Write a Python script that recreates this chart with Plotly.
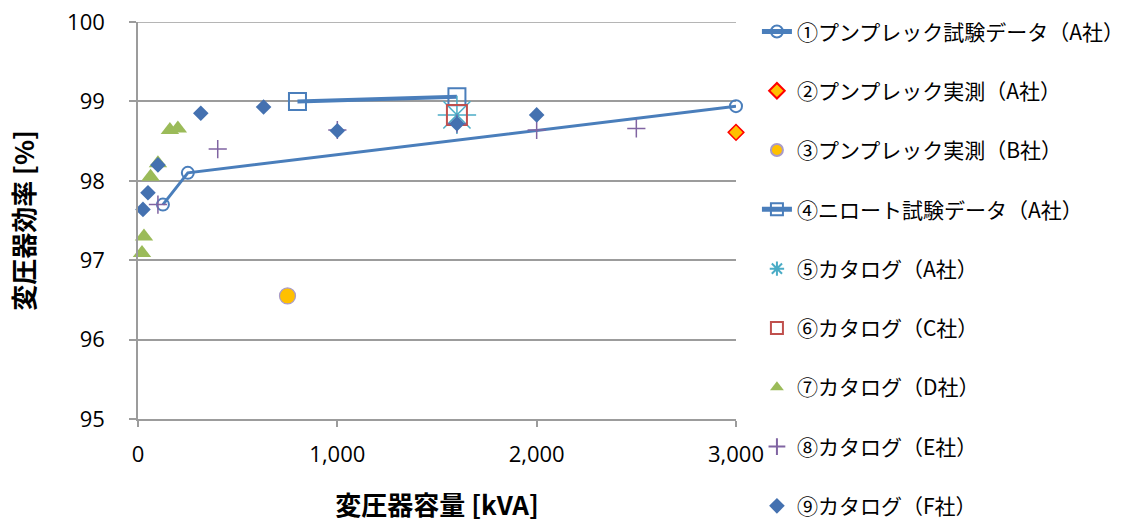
import plotly.graph_objects as go

# ---- data: transformer capacity [kVA] vs efficiency [%] ----
names = [
    "①プンプレック試験データ（A社）",
    "②プンプレック実測（A社）",
    "③プンプレック実測（B社）",
    "④ニロート試験データ（A社）",
    "⑤カタログ（A社）",
    "⑥カタログ（C社）",
    "⑦カタログ（D社）",
    "⑧カタログ（E社）",
    "⑨カタログ（F社）",
]

s1_x = [125, 250, 3000]
s1_y = [97.70, 98.10, 98.94]
s2_x = [3000]
s2_y = [98.61]
s3_x = [750]
s3_y = [96.55]
s4_x = [800, 1600]
s4_y = [99.00, 99.06]
s5_x = [1600]
s5_y = [98.83]
s6_x = [1600]
s6_y = [98.83]
s7_x = [20, 30, 63, 100, 160, 200]
s7_y = [97.09, 97.30, 98.05, 98.22, 98.64, 98.66]
s8_x = [100, 400, 1000, 1600, 2000, 2500]
s8_y = [97.70, 98.40, 98.64, 98.72, 98.64, 98.66]
s9_x = [25, 50, 100, 315, 630, 1000, 1600, 2000]
s9_y = [97.64, 97.85, 98.20, 98.85, 98.93, 98.63, 98.72, 98.83]

x_ticks = [0, 1000, 2000, 3000]
y_ticks = [95, 96, 97, 98, 99, 100]

BLUE = "#4A7EBB"
GRID = "#9C9C9C"
JP = "Noto Sans CJK JP"
NUM = "Open Sans"

fig = go.Figure()

def add(x, y, name, i, mode="markers", marker=None, line=None):
    fig.add_trace(go.Scatter(
        x=x, y=y, name=name, mode=mode, marker=marker, line=line,
        legendgroup=f"g{i}", cliponaxis=False,
    ))

add(s1_x, s1_y, names[0], 1, mode="lines+markers",
    marker=dict(symbol="circle-open", size=12, color=BLUE, line=dict(width=2)),
    line=dict(color=BLUE, width=3))
add(s2_x, s2_y, names[1], 2,
    marker=dict(symbol="diamond", size=12, color="#FFC000",
                line=dict(color="#FF0000", width=1.5)))
add(s3_x, s3_y, names[2], 3,
    marker=dict(symbol="circle", size=16, color="#FFC000",
                line=dict(color="#A99BC9", width=1.2)))
add(s4_x, s4_y, names[3], 4, mode="lines+markers",
    marker=dict(symbol="square-open", size=17, color=BLUE, line=dict(width=2)),
    line=dict(color=BLUE, width=4))
add(s5_x, s5_y, names[4], 5,
    marker=dict(symbol="asterisk-open", size=32, color="#4BACC6",
                line=dict(color="#4BACC6", width=1.5)))
add(s6_x, s6_y, names[5], 6,
    marker=dict(symbol="square-open", size=20, color="#C0504D",
                line=dict(color="#C0504D", width=2)))
add(s7_x, s7_y, names[6], 7,
    marker=dict(symbol="triangle-up", size=16, color="#9BBB59"))
add(s8_x, s8_y, names[7], 8,
    marker=dict(symbol="cross-thin-open", size=13, color="#8064A2",
                line=dict(color="#8064A2", width=1.5)))
add(s9_x, s9_y, names[8], 9,
    marker=dict(symbol="diamond", size=12, color="#4471B0"))

# gridline along the top of the value axis
fig.add_shape(type="line", xref="paper", x0=0, x1=1, yref="y", y0=100, y1=100,
              line=dict(color=GRID, width=1.5), layer="below")

fig.update_layout(
    width=1123, height=524,
    margin=dict(l=138, r=387, t=22, b=105, autoexpand=False),
    paper_bgcolor="white", plot_bgcolor="white",
    showlegend=True,
    legend=dict(
        x=1.035, y=1.027, xanchor="left", yanchor="top",
        font=dict(family=JP, size=21, color="black"),
        tracegroupgap=29, itemsizing="constant", maxheight=600,
        bgcolor="rgba(0,0,0,0)", borderwidth=0,
    ),
    xaxis=dict(
        range=[0, 3000], tickvals=x_ticks, tickformat=",",
        showgrid=False, zeroline=False, automargin=False,
        showline=True, linecolor=GRID, linewidth=1.5,
        ticks="outside", ticklen=6, tickcolor=GRID, tickwidth=1.5,
        ticklabelstandoff=9,
        tickfont=dict(family=NUM, size=22, color="black"),
        title=dict(text="<b>変圧器容量 [kVA]</b>", standoff=30,
                   font=dict(family=JP, size=26, color="black")),
    ),
    yaxis=dict(
        range=[95, 100], tickvals=y_ticks,
        showgrid=True, gridcolor=GRID, gridwidth=1.5, zeroline=False,
        automargin=False,
        showline=True, linecolor=GRID, linewidth=1.5,
        ticks="outside", ticklen=7, tickcolor=GRID, tickwidth=1.5,
        ticklabelstandoff=20,
        tickfont=dict(family=NUM, size=22, color="black"),
        title=dict(text="<b>変圧器効率 [%]</b>", standoff=25,
                   font=dict(family=JP, size=26, color="black")),
    ),
)

fig.write_html("out.html")
